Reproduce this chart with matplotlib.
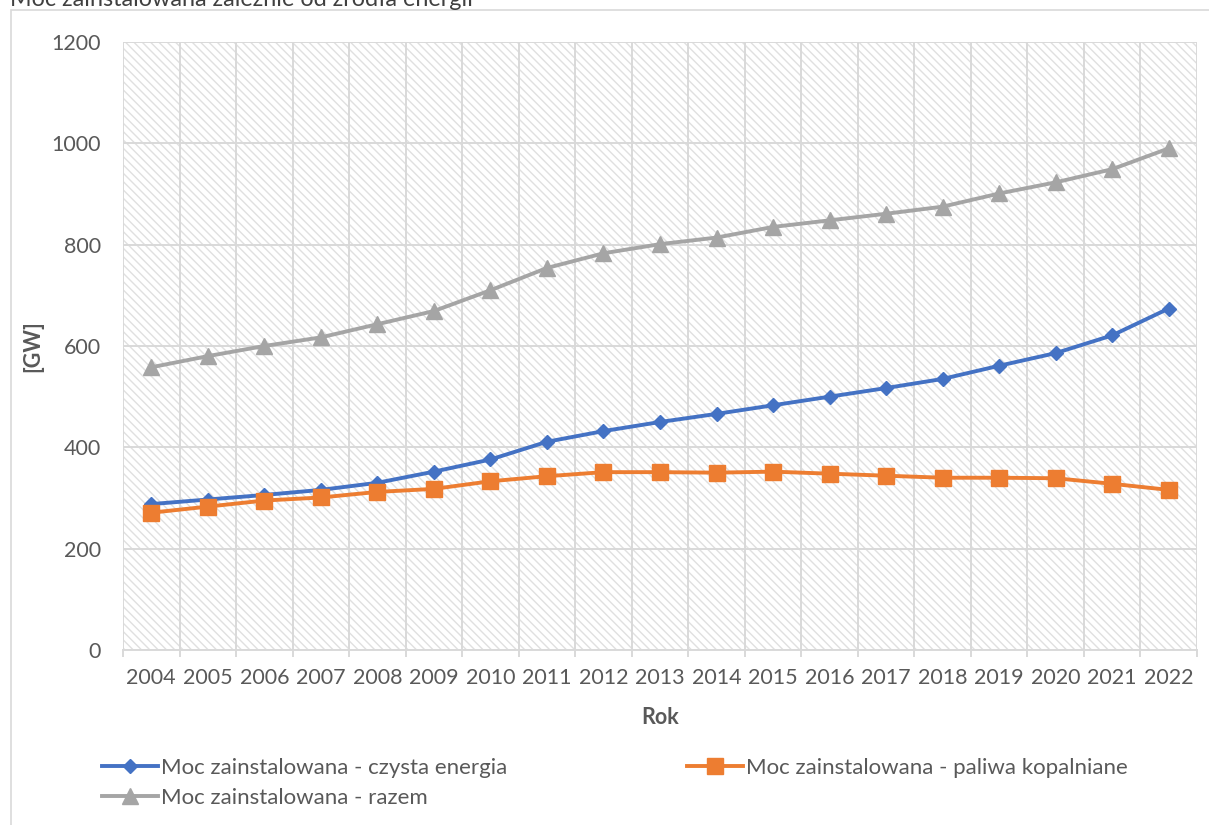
import matplotlib
matplotlib.use("Agg")
import matplotlib.pyplot as plt
from matplotlib.patches import Rectangle
from matplotlib.lines import Line2D
import numpy as np

years = [str(y) for y in range(2004, 2023)]
clean = [288, 297, 306, 316, 330, 352, 376, 411, 432, 450, 466, 483, 500, 517, 535, 561, 586, 621, 674]
fossil = [271, 283, 295, 301, 312, 318, 333, 343, 351, 351, 350, 352, 348, 344, 340, 340, 339, 328, 316]
total = [558, 580, 600, 617, 643, 669, 710, 754, 783, 801, 814, 835, 848, 861, 875, 901, 923, 949, 990]

label_clean = "Moc zainstalowana - czysta energia"
label_fossil = "Moc zainstalowana - paliwa kopalniane"
label_total = "Moc zainstalowana - razem"
title = "Moc zainstalowana zależnie od źródła energii"

BLUE = "#4472C4"
ORANGE = "#ED7D31"
GRAY = "#A5A5A5"
GRID = "#D9D9D9"
TXT = "#595959"
FONT = ["Lato", "DejaVu Sans"]

plt.rcParams['font.family'] = FONT

W, H = 1209, 825
fig = plt.figure(figsize=(W / 100, H / 100), dpi=100)
fig.patch.set_facecolor("white")

def fx(px):
    return px / W

def fy(py):
    return 1 - py / H

# chart frame
fig.patches.append(Rectangle((fx(11), fy(830)), fx(1215) - fx(11), fy(10) - fy(830),
                             transform=fig.transFigure, facecolor="none",
                             edgecolor=GRID, linewidth=1.2, zorder=0))

ax = fig.add_axes([fx(123), fy(650), fx(1197) - fx(123), fy(42) - fy(650)])
ax.set_facecolor("white")

# hatched plot area
plt.rcParams['hatch.linewidth'] = 1.0
bg = Rectangle((0, 0), 1, 1, transform=ax.transAxes, facecolor="white",
               edgecolor="#E0E0E0", linewidth=0, hatch="\\\\\\\\", zorder=0.1)
ax.add_patch(bg)

x = np.arange(len(years))
ax.plot(x, total, color=GRAY, lw=2.8, marker="^", ms=11, zorder=3)
ax.plot(x, clean, color=BLUE, lw=2.8, marker="D", ms=7.6, zorder=4)
ax.plot(x, fossil, color=ORANGE, lw=2.8, marker="s", ms=11.5, zorder=5)

ax.set_xlim(-0.5, len(years) - 0.5)
ax.set_ylim(0, 1200)
ax.set_yticks(np.arange(0, 1201, 200))
ax.set_xticks(x)
ax.set_xticklabels(years)
ax.set_xticks(np.arange(-0.5, len(years), 1), minor=True)

ax.set_axisbelow(True)
ax.grid(False)
ax.yaxis.grid(True, color=GRID, lw=1.4, zorder=0.5)
ax.xaxis.grid(True, which="minor", color=GRID, lw=1.4, zorder=0.5)
for s in ax.spines.values():
    s.set_visible(False)
ax.spines['bottom'].set_visible(True)
ax.spines['bottom'].set_color(GRID)
ax.spines['bottom'].set_linewidth(1.4)

ax.tick_params(axis="x", which="major", length=0, pad=13, labelsize=15.5, labelcolor=TXT)
ax.tick_params(axis="x", which="minor", length=5, width=1.4, color=GRID, direction="out")
ax.tick_params(axis="y", length=0, pad=16, labelsize=15.5, labelcolor=TXT)

fig.text(fx(33), fy(346), "[GW]", rotation=90, ha="center", va="center",
         fontsize=15.5, fontweight="bold", color=TXT)
fig.text(fx(660), fy(718), "Rok", ha="center", va="center",
         fontsize=15.5, fontweight="bold", color=TXT)

fig.text(fx(10), fy(6.5), title, ha="left", va="baseline", fontsize=16.8, color="#404040")

h_clean = Line2D([], [], color=BLUE, lw=2.8, marker="D", ms=7.6)
h_fossil = Line2D([], [], color=ORANGE, lw=2.8, marker="s", ms=11.5)
h_total = Line2D([], [], color=GRAY, lw=2.8, marker="^", ms=11)

leg_kw = dict(frameon=False, fontsize=16, labelcolor=TXT, handlelength=2.5,
              handletextpad=0.15, borderaxespad=0, borderpad=0, labelspacing=0.45)
leg1 = fig.legend([h_clean, h_total], [label_clean, label_total], loc="upper left",
                  bbox_to_anchor=(fx(102), fy(758)), **leg_kw)
leg2 = fig.legend([h_fossil], [label_fossil], loc="upper left",
                  bbox_to_anchor=(fx(687), fy(758)), **leg_kw)

fig.savefig("out.png", dpi=100, facecolor="white")
